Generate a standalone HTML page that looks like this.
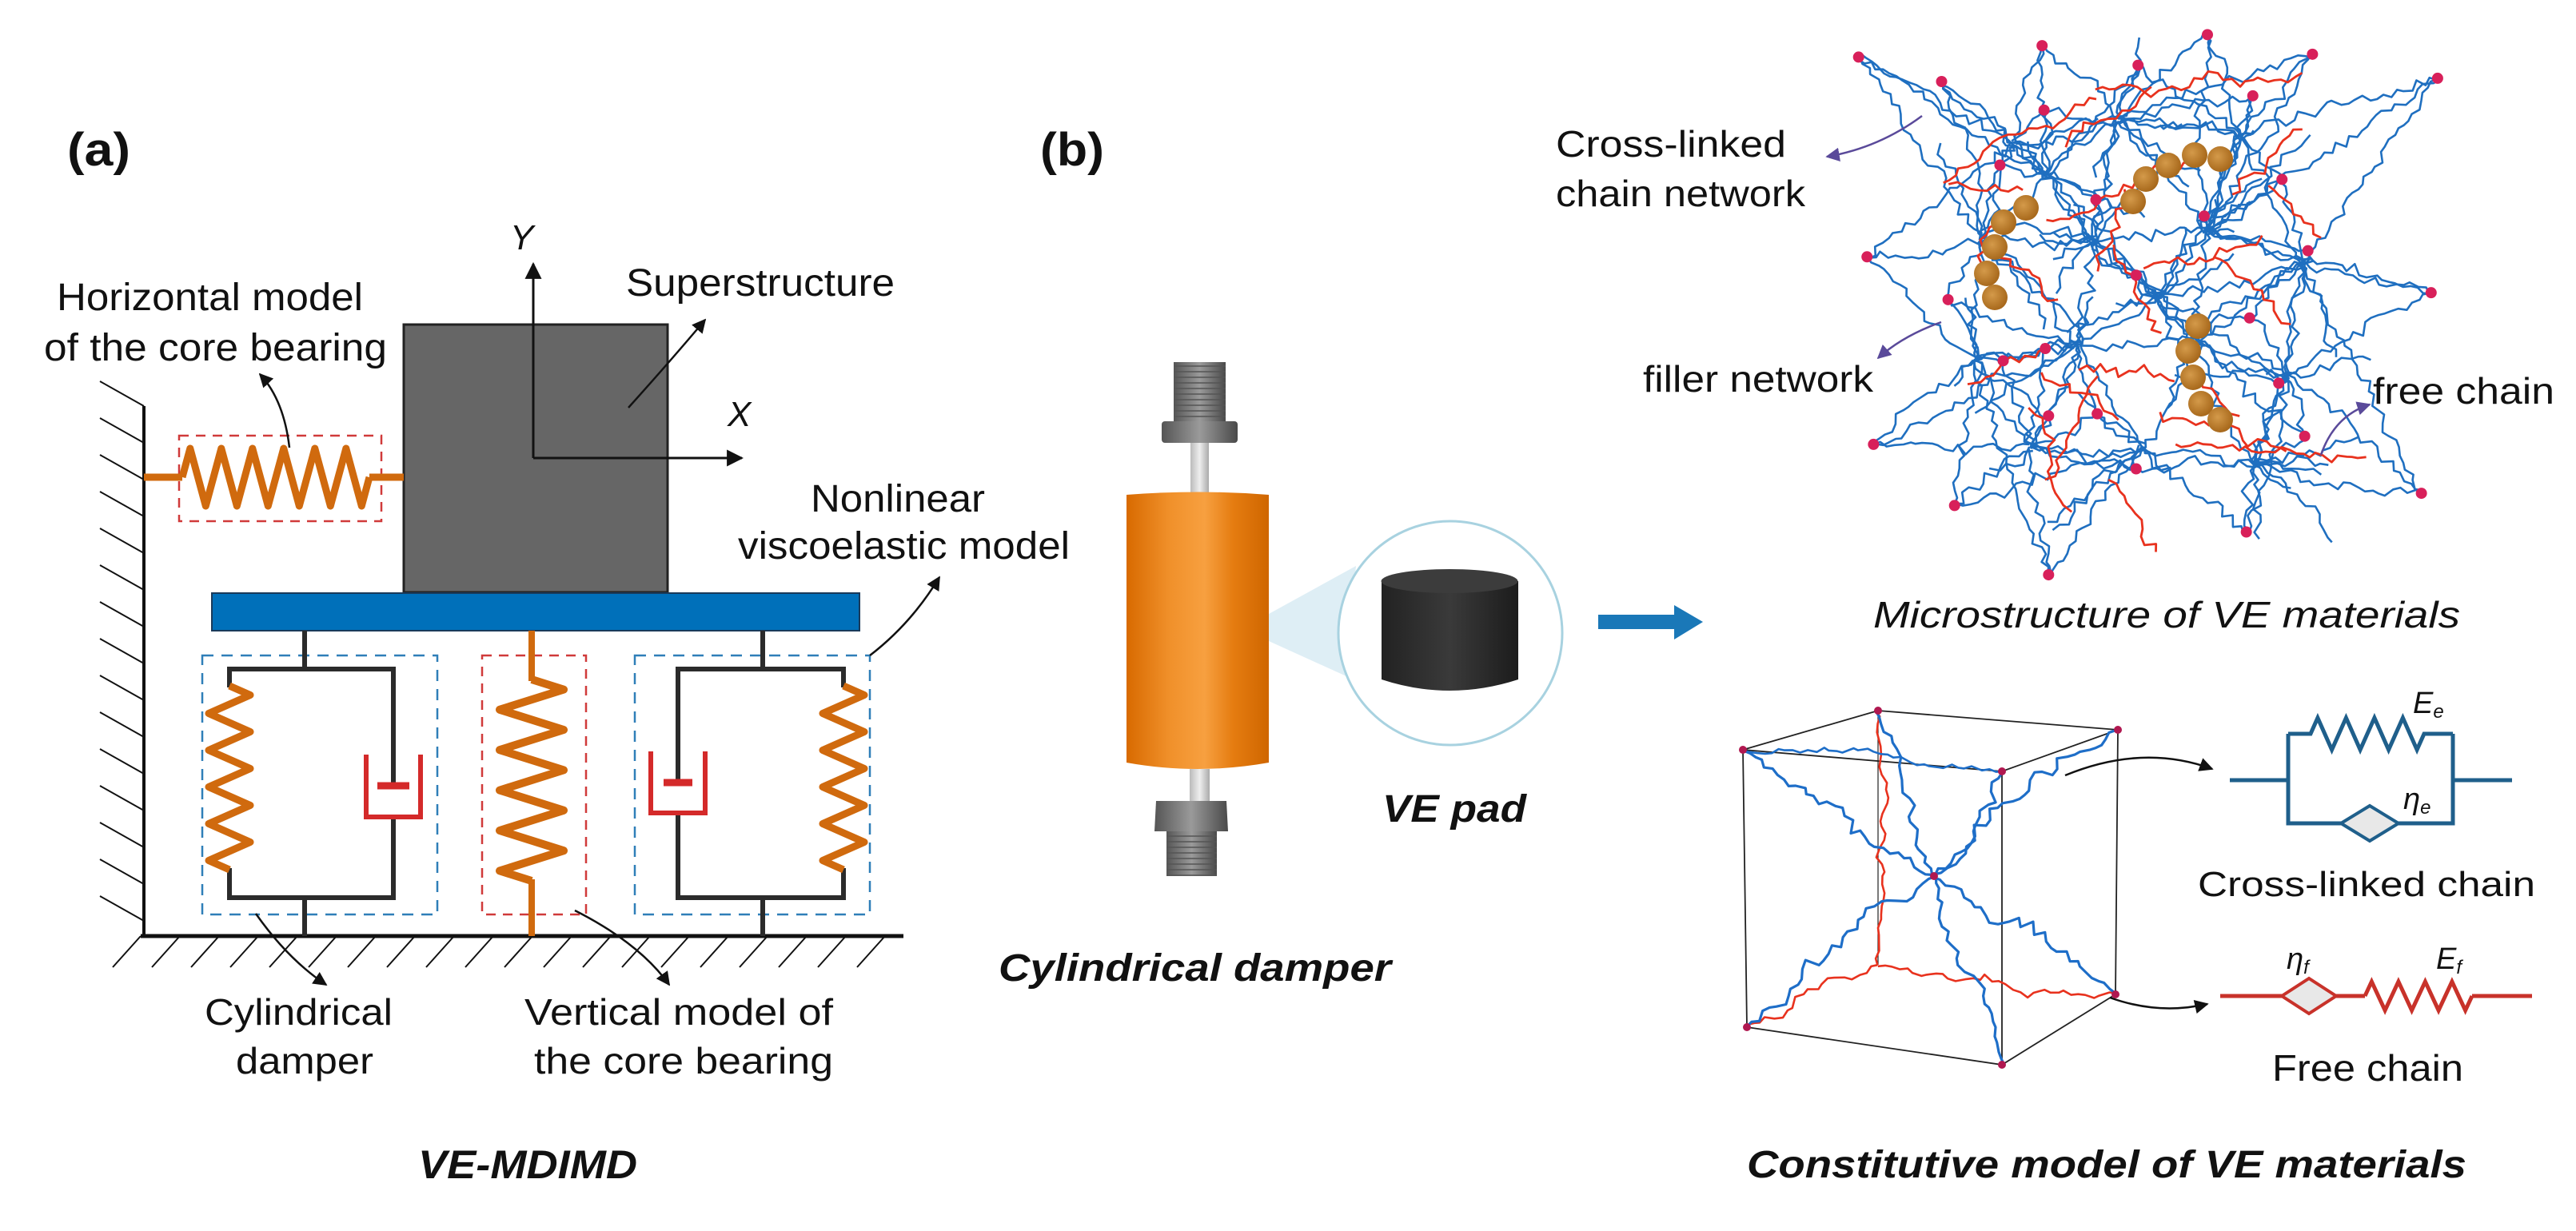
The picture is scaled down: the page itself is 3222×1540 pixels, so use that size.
<!DOCTYPE html>
<html><head><meta charset="utf-8"><style>
html,body{margin:0;padding:0;background:#fff;}
svg{display:block;}
text{font-family:"Liberation Sans",Arial,sans-serif;fill:#111;}
</style></head><body>
<svg id="s" width="3222" height="1540" viewBox="0 0 3222 1540" xmlns="http://www.w3.org/2000/svg">
<defs>
<marker id="ah" viewBox="0 0 10 10" refX="9" refY="5" markerWidth="7" markerHeight="7" orient="auto-start-reverse"><path d="M0,0 L10,5 L0,10 z" fill="#111"/></marker>
<marker id="ahp" viewBox="0 0 10 10" refX="9" refY="5" markerWidth="7" markerHeight="7" orient="auto-start-reverse"><path d="M0,0 L10,5 L0,10 z" fill="#5a4a9a"/></marker>
<linearGradient id="og" x1="0" x2="1" y1="0" y2="0">
<stop offset="0" stop-color="#d86a00"/><stop offset="0.3" stop-color="#f0902a"/><stop offset="0.55" stop-color="#f7a040"/><stop offset="0.75" stop-color="#e57c10"/><stop offset="1" stop-color="#cf6600"/></linearGradient>
<linearGradient id="gg" x1="0" x2="1"><stop offset="0" stop-color="#555"/><stop offset="0.5" stop-color="#9a9a9a"/><stop offset="1" stop-color="#4a4a4a"/></linearGradient>
<linearGradient id="rg" x1="0" x2="1"><stop offset="0" stop-color="#bbb"/><stop offset="0.5" stop-color="#eee"/><stop offset="1" stop-color="#aaa"/></linearGradient>
<linearGradient id="pg" x1="0" x2="1"><stop offset="0" stop-color="#222"/><stop offset="0.5" stop-color="#3a3a3a"/><stop offset="1" stop-color="#1c1c1c"/></linearGradient>
<radialGradient id="bg" cx="0.4" cy="0.4" r="0.6"><stop offset="0" stop-color="#d49a4a"/><stop offset="1" stop-color="#a8691c"/></radialGradient>
</defs>

<text x="84" y="207" font-size="58" font-weight="bold" textLength="79" lengthAdjust="spacingAndGlyphs">(a)</text>

<line x1="180" y1="508" x2="180" y2="1171" stroke="#111" stroke-width="4"/>
<g id="wallh" stroke="#111" stroke-width="2"></g>
<line x1="176" y1="1171" x2="1130" y2="1171" stroke="#111" stroke-width="5"/>
<g id="groundh" stroke="#111" stroke-width="2"></g>

<rect x="505" y="406" width="330" height="335" fill="#666" stroke="#222" stroke-width="3"/>
<rect x="265" y="742" width="810" height="47" fill="#0070ba" stroke="#1a3a5a" stroke-width="2"/>
<line x1="667" y1="573" x2="667" y2="330" stroke="#111" stroke-width="3" marker-end="url(#ah)"/>
<line x1="667" y1="573" x2="928" y2="573" stroke="#111" stroke-width="3" marker-end="url(#ah)"/>
<text x="638" y="312" font-size="44" font-style="italic">Y</text>
<text x="910" y="533" font-size="44" font-style="italic">X</text>
<text x="783" y="370" font-size="48" textLength="336" lengthAdjust="spacingAndGlyphs">Superstructure</text>
<path d="M786,510 Q840,450 882,400" fill="none" stroke="#111" stroke-width="2.5" marker-end="url(#ah)"/>

<text x="71" y="388" font-size="48" textLength="383" lengthAdjust="spacingAndGlyphs">Horizontal model</text>
<text x="55" y="451" font-size="48" textLength="429" lengthAdjust="spacingAndGlyphs">of the core bearing</text>
<rect x="224" y="545" width="253" height="107" fill="none" stroke="#d03a3a" stroke-width="2.5" stroke-dasharray="12,9"/>
<line x1="180" y1="597" x2="228" y2="597" stroke="#d06a0e" stroke-width="9"/>
<line x1="462" y1="597" x2="505" y2="597" stroke="#d06a0e" stroke-width="9"/>
<polyline id="hs" fill="none" stroke="#d06a0e" stroke-width="9" stroke-linejoin="round"/>
<path d="M362,560 Q355,500 325,468" fill="none" stroke="#111" stroke-width="2.5" marker-end="url(#ah)"/>

<rect x="253" y="820" width="294" height="324" fill="none" stroke="#2f7fb8" stroke-width="2.5" stroke-dasharray="14,10"/>
<rect x="603" y="820" width="130" height="324" fill="none" stroke="#d03a3a" stroke-width="2.5" stroke-dasharray="12,9"/>
<rect x="794" y="820" width="294" height="324" fill="none" stroke="#2f7fb8" stroke-width="2.5" stroke-dasharray="14,10"/>

<g stroke="#2b2b2b" stroke-width="6" fill="none">
<line x1="381" y1="789" x2="381" y2="837"/>
<polyline points="287,860 287,837 492,837 492,983"/>
<polyline points="287,1086 287,1123 492,1123 492,1022"/>
<line x1="381" y1="1123" x2="381" y2="1171"/>
<line x1="954" y1="789" x2="954" y2="837"/>
<polyline points="1055,860 1055,837 848,837 848,979"/>
<polyline points="1055,1086 1055,1123 848,1123 848,1017"/>
<line x1="954" y1="1123" x2="954" y2="1171"/>
</g>
<polyline id="ls" fill="none" stroke="#d06a0e" stroke-width="9" stroke-linejoin="round"/>
<polyline id="rs" fill="none" stroke="#d06a0e" stroke-width="9" stroke-linejoin="round"/>
<polyline id="ms" fill="none" stroke="#d06a0e" stroke-width="10" stroke-linejoin="round"/>
<line x1="665" y1="789" x2="665" y2="852" stroke="#d06a0e" stroke-width="8"/>
<line x1="665" y1="1100" x2="665" y2="1171" stroke="#d06a0e" stroke-width="8"/>
<g stroke="#d42a2a" fill="none" stroke-width="6">
<polyline points="458,944 458,1022 526,1022 526,944"/>
<line x1="472" y1="983" x2="512" y2="983" stroke-width="9"/>
<polyline points="814,940 814,1017 882,1017 882,940"/>
<line x1="830" y1="979" x2="866" y2="979" stroke-width="9"/>
</g>

<text x="1014" y="640" font-size="48" textLength="218" lengthAdjust="spacingAndGlyphs">Nonlinear</text>
<text x="923" y="699" font-size="48" textLength="415" lengthAdjust="spacingAndGlyphs">viscoelastic model</text>
<path d="M1088,820 Q1140,780 1175,722" fill="none" stroke="#111" stroke-width="2.5" marker-end="url(#ah)"/>

<path d="M320,1143 Q360,1200 408,1232" fill="none" stroke="#111" stroke-width="2.5" marker-end="url(#ah)"/>
<path d="M719,1139 Q800,1180 837,1232" fill="none" stroke="#111" stroke-width="2.5" marker-end="url(#ah)"/>
<text x="256" y="1282" font-size="46" textLength="235" lengthAdjust="spacingAndGlyphs">Cylindrical</text>
<text x="295" y="1343" font-size="46" textLength="172" lengthAdjust="spacingAndGlyphs">damper</text>
<text x="656" y="1282" font-size="46" textLength="386" lengthAdjust="spacingAndGlyphs">Vertical model of</text>
<text x="668" y="1343" font-size="46" textLength="374" lengthAdjust="spacingAndGlyphs">the core bearing</text>
<text x="523" y="1474" font-size="50" font-weight="bold" font-style="italic" textLength="274" lengthAdjust="spacingAndGlyphs">VE-MDIMD</text>

<text x="1301" y="207" font-size="58" font-weight="bold" textLength="80" lengthAdjust="spacingAndGlyphs">(b)</text>
<polygon points="1587,768 1696,708 1684,846 1587,802" fill="#d6eaf2" opacity="0.8"/>
<rect x="1468" y="453" width="65" height="76" fill="url(#gg)"/>
<g id="thr" stroke="#555" stroke-width="1.5"></g>
<rect x="1453" y="527" width="95" height="27" rx="4" fill="url(#gg)"/>
<rect x="1489" y="554" width="23" height="70" fill="url(#rg)"/>
<path d="M1409,619 Q1498,612 1587,619 L1587,954 Q1498,970 1409,954 Z" fill="url(#og)"/>
<rect x="1488" y="962" width="25" height="40" fill="url(#rg)"/>
<path d="M1446,1002 L1534,1002 L1536,1040 L1444,1040 Z" fill="url(#gg)"/>
<rect x="1459" y="1040" width="63" height="56" fill="url(#gg)"/>
<g id="thr2" stroke="#555" stroke-width="1.5"></g>
<circle cx="1814" cy="792" r="140" fill="#fff" stroke="#a8d2e0" stroke-width="3"/>
<path d="M1728,727 L1728,850 Q1813,878 1899,850 L1899,727 Z" fill="url(#pg)"/>
<ellipse cx="1813" cy="727" rx="85.5" ry="15" fill="#3c3c3c"/>
<text x="1729" y="1028" font-size="48" font-weight="bold" font-style="italic" textLength="180" lengthAdjust="spacingAndGlyphs">VE pad</text>
<text x="1249" y="1227" font-size="48" font-weight="bold" font-style="italic" textLength="491" lengthAdjust="spacingAndGlyphs">Cylindrical damper</text>

<rect x="1999" y="769" width="98" height="18" fill="#1a78b8"/>
<polygon points="2094,757 2130,778 2094,800" fill="#1a78b8"/>

<g id="net" fill="none" stroke-width="2.6" stroke-linejoin="round"></g>
<g id="balls"></g>
<text x="1946" y="196" font-size="46" textLength="288" lengthAdjust="spacingAndGlyphs">Cross-linked</text>
<text x="1946" y="258" font-size="46" textLength="312" lengthAdjust="spacingAndGlyphs">chain network</text>
<text x="2055" y="490" font-size="46" textLength="288" lengthAdjust="spacingAndGlyphs">filler network</text>
<text x="2968" y="505" font-size="46" textLength="227" lengthAdjust="spacingAndGlyphs">free chain</text>
<path d="M2404,145 Q2350,185 2285,196" fill="none" stroke="#5a4a9a" stroke-width="2.5" marker-end="url(#ahp)"/>
<path d="M2428,403 Q2380,420 2349,448" fill="none" stroke="#5a4a9a" stroke-width="2.5" marker-end="url(#ahp)"/>
<path d="M2903,569 Q2920,520 2964,506" fill="none" stroke="#5a4a9a" stroke-width="2.5" marker-end="url(#ahp)"/>
<text x="2343" y="785" font-size="46" font-style="italic" textLength="734" lengthAdjust="spacingAndGlyphs">Microstructure of VE materials</text>

<g stroke="#222" stroke-width="1.8" fill="none">
<polyline points="2180,938 2349,889 2649,913 2504,965 2180,938 2185,1285 2504,1332 2646,1244 2649,913"/>
<line x1="2504" y1="965" x2="2504" y2="1332"/>
<line x1="2349" y1="889" x2="2349" y2="1207" stroke-width="1.2"/>
</g>
<g id="cube" fill="none" stroke-width="3" stroke-linejoin="round"></g>
<g id="cubeb"></g>
<path d="M2583,970 Q2680,930 2767,962" fill="none" stroke="#111" stroke-width="2.5" marker-end="url(#ah)"/>
<path d="M2639,1248 Q2700,1270 2761,1256" fill="none" stroke="#111" stroke-width="2.5" marker-end="url(#ah)"/>

<g stroke="#1f5f8b" stroke-width="5" fill="none">
<line x1="2789" y1="976" x2="2862" y2="976"/>
<line x1="3068" y1="976" x2="3142" y2="976"/>
<polyline points="2862,918 2862,1030 2928,1030"/>
<polyline points="3000,1030 3068,1030 3068,918"/>
<polyline id="es" points=""/>
</g>
<polygon points="2928,1030 2964,1008 3000,1030 2964,1052" fill="#e8e8e8" stroke="#1f5f8b" stroke-width="4"/>
<text x="3018" y="892" font-size="38" font-style="italic">E<tspan font-size="24" dy="6">e</tspan></text>
<text x="3006" y="1012" font-size="38" font-style="italic">η<tspan font-size="24" dy="6">e</tspan></text>
<text x="2749" y="1121" font-size="44" textLength="422" lengthAdjust="spacingAndGlyphs">Cross-linked chain</text>

<g stroke="#c8322a" stroke-width="5" fill="none">
<line x1="2777" y1="1246" x2="2854" y2="1246"/>
<line x1="2922" y1="1246" x2="2958" y2="1246"/>
<line x1="3092" y1="1246" x2="3167" y2="1246"/>
<polyline id="fs" points=""/>
</g>
<polygon points="2854,1246 2888,1224 2922,1246 2888,1268" fill="#e8e8e8" stroke="#c8322a" stroke-width="4"/>
<text x="2860" y="1212" font-size="38" font-style="italic">η<tspan font-size="24" dy="6">f</tspan></text>
<text x="3047" y="1212" font-size="38" font-style="italic">E<tspan font-size="24" dy="6">f</tspan></text>
<text x="2842" y="1352" font-size="46" textLength="239" lengthAdjust="spacingAndGlyphs">Free chain</text>
<text x="2185" y="1473" font-size="48" font-weight="bold" font-style="italic" textLength="900" lengthAdjust="spacingAndGlyphs">Constitutive model of VE materials</text>
</svg>
<script>
(function(){
var NS="http://www.w3.org/2000/svg";
function el(t,a,p){var e=document.createElementNS(NS,t);for(var k in a)e.setAttribute(k,a[k]);p.appendChild(e);return e;}
function $(i){return document.getElementById(i);}
for(var y=508;y<=1171;y+=46){el('line',{x1:180,y1:y,x2:125,y2:y-31},$('wallh'));}
for(var x=176;x<=1130;x+=49){el('line',{x1:x,y1:1171,x2:x-35,y2:1210},$('groundh'));}
function zig(x0,y0,x1,y1,n,amp){var dx=x1-x0,dy=y1-y0,L=Math.hypot(dx,dy),ux=dx/L,uy=dy/L,px=-uy,py=ux;var pts=[[x0,y0]];for(var i=0;i<2*n;i++){var t=(i+0.5)/(2*n);var s=(i%2?1:-1)*amp;pts.push([x0+dx*t+px*s,y0+dy*t+py*s]);}pts.push([x1,y1]);return pts.map(function(p){return p[0].toFixed(1)+','+p[1].toFixed(1)}).join(' ');}
$('hs').setAttribute('points',zig(228,597,462,597,6,36));
$('ls').setAttribute('points',zig(287,858,287,1088,5,26));
$('rs').setAttribute('points',zig(1055,858,1055,1088,5,26));
$('ms').setAttribute('points',zig(665,850,665,1102,5,40));
$('es').setAttribute('points','2862,918 2890,918 '+zig(2890,918,3032,918,4,20)+' 3068,918');
$('fs').setAttribute('points',zig(2958,1246,3092,1246,4,18));
for(var y=458;y<528;y+=7){el('line',{x1:1468,y1:y,x2:1533,y2:y},$('thr'));}
for(var y=1046;y<1096;y+=7){el('line',{x1:1459,y1:y,x2:1522,y2:y},$('thr2'));}
var seed=12345;function r(){seed|=0;seed=seed+0x6D2B79F5|0;var t=Math.imul(seed^seed>>>15,1|seed);t=t+Math.imul(t^t>>>7,61|t)^t;return((t^t>>>14)>>>0)/4294967296;}
function chain(x0,y0,x1,y1,col,g,w,amp,jit){var L=Math.hypot(x1-x0,y1-y0);var n=Math.max(4,Math.round(L/9));var ux=(x1-x0)/L,uy=(y1-y0)/L,px=-uy,py=ux;var off=0,d="";for(var i=0;i<=n;i++){var t=i/n;off+= (r()-0.5)*(amp||10);off*=0.85;var env=Math.sin(Math.PI*t);var j=(r()-0.5)*(jit||7);var xx=x0+(x1-x0)*t+px*(off*env+j)+ux*(r()-0.5)*5;var yy=y0+(y1-y0)*t+py*(off*env+j)+uy*(r()-0.5)*5;d+=(i?'L':'M')+xx.toFixed(1)+','+yy.toFixed(1);}el('path',{d:d,stroke:col,'stroke-width':w||2.6},g);}
var B="#1f6fc0",R="#e8321e";
var net=$('net');
function Z(zx,zy){return [1950+zx*0.811,zy*0.51];}
var beadsZ=[[462,140],[745,112],[1000,85],[1162,133],[1355,192],[590,200],[893,160],[748,270],[1070,235],[475,630],[600,735],[1345,718],[485,1090],[610,1240],[755,1410],[1060,1305],[1330,1210],[890,1150],[1150,1070],[1110,940],[1155,615],[1065,780],[750,855],[685,885],[828,490],[995,530],[890,675],[1115,440],[680,405],[830,1015],[755,1020]];
var beads=beadsZ.map(function(p){return Z(p[0],p[1]);});
var hubs=[[2520,180],[2650,150],[2800,170],[2480,300],[2620,300],[2760,290],[2880,330],[2470,450],[2600,430],[2740,420],[2860,470],[2540,560],[2680,560],[2820,580],[2560,220],[2700,370]];
for(var i=0;i<hubs.length;i++){for(var j=i+1;j<hubs.length;j++){var d=Math.hypot(hubs[i][0]-hubs[j][0],hubs[i][1]-hubs[j][1]);if(d<190){chain(hubs[i][0],hubs[i][1],hubs[j][0],hubs[j][1],B,net,2.6,12,11);}}}
beads.forEach(function(b){var ds=hubs.map(function(h,k){return [Math.hypot(h[0]-b[0],h[1]-b[1]),k]}).sort(function(a,c){return a[0]-c[0]});for(var m=0;m<3;m++){var h=hubs[ds[m][1]];chain(b[0],b[1],h[0],h[1],B,net,2.6,12,11);}});
for(var k=0;k<60;k++){var a=hubs[Math.floor(r()*hubs.length)],bx=a[0]+(r()-0.5)*280,by=a[1]+(r()-0.5)*240;chain(a[0],a[1],bx,by,B,net,2.6,12,11);}
var reds=[[2430,230,2620,120],[2440,225,2530,240],[2620,110,2880,95],[2490,310,2570,380],[2560,280,2750,200],[2640,310,2700,420],[2680,340,2830,300],[2770,320,2860,410],[2600,460,2720,480],[2620,470,2560,600],[2700,520,2860,560],[2720,560,2960,570],[2540,510,2590,640],[2640,600,2700,690],[2460,480,2560,440],[2790,240,2880,160],[2500,270,2470,350],[2580,180,2690,110],[2660,240,2620,340],[2840,230,2900,300],[2550,470,2650,520],[2740,460,2800,520]];
reds.forEach(function(c){chain(c[0],c[1],c[2],c[3],R,net,2.8,16,12);});
beads.forEach(function(b){el('circle',{cx:b[0],cy:b[1],r:7,fill:'#d8205a'},net);});
var balls=[[2534,260],[2506,278],[2495,309],[2485,342],[2495,372],[2668,252],[2684,224],[2712,207],[2745,194],[2777,199],[2749,408],[2737,439],[2743,472],[2753,505],[2777,525]];
balls.forEach(function(b){el('circle',{cx:b[0],cy:b[1],r:16,fill:'url(#bg)'},$('balls'));});
var cg=$('cube'),C=[2419,1096];
var V=[[2180,938],[2504,965],[2649,913],[2185,1285],[2504,1332],[2646,1244],[2349,889]];
chain(2349,889,2349,1207,R,cg,2.6,12);
chain(2185,1285,2349,1207,R,cg,2.6,16);
chain(2349,1207,2646,1244,R,cg,2.6,16);
V.forEach(function(v){chain(v[0],v[1],C[0],C[1],"#1e6ec8",cg,3.2,22);});
chain(2180,938,2504,965,"#1e6ec8",cg,2.6,10);
[[2180,938],[2349,889],[2649,913],[2504,965],[2185,1285],[2504,1332],[2646,1244],[2419,1096]].forEach(function(v){el('circle',{cx:v[0],cy:v[1],r:5,fill:'#b01850'},$('cubeb'));});
})();
</script>
</body></html>
